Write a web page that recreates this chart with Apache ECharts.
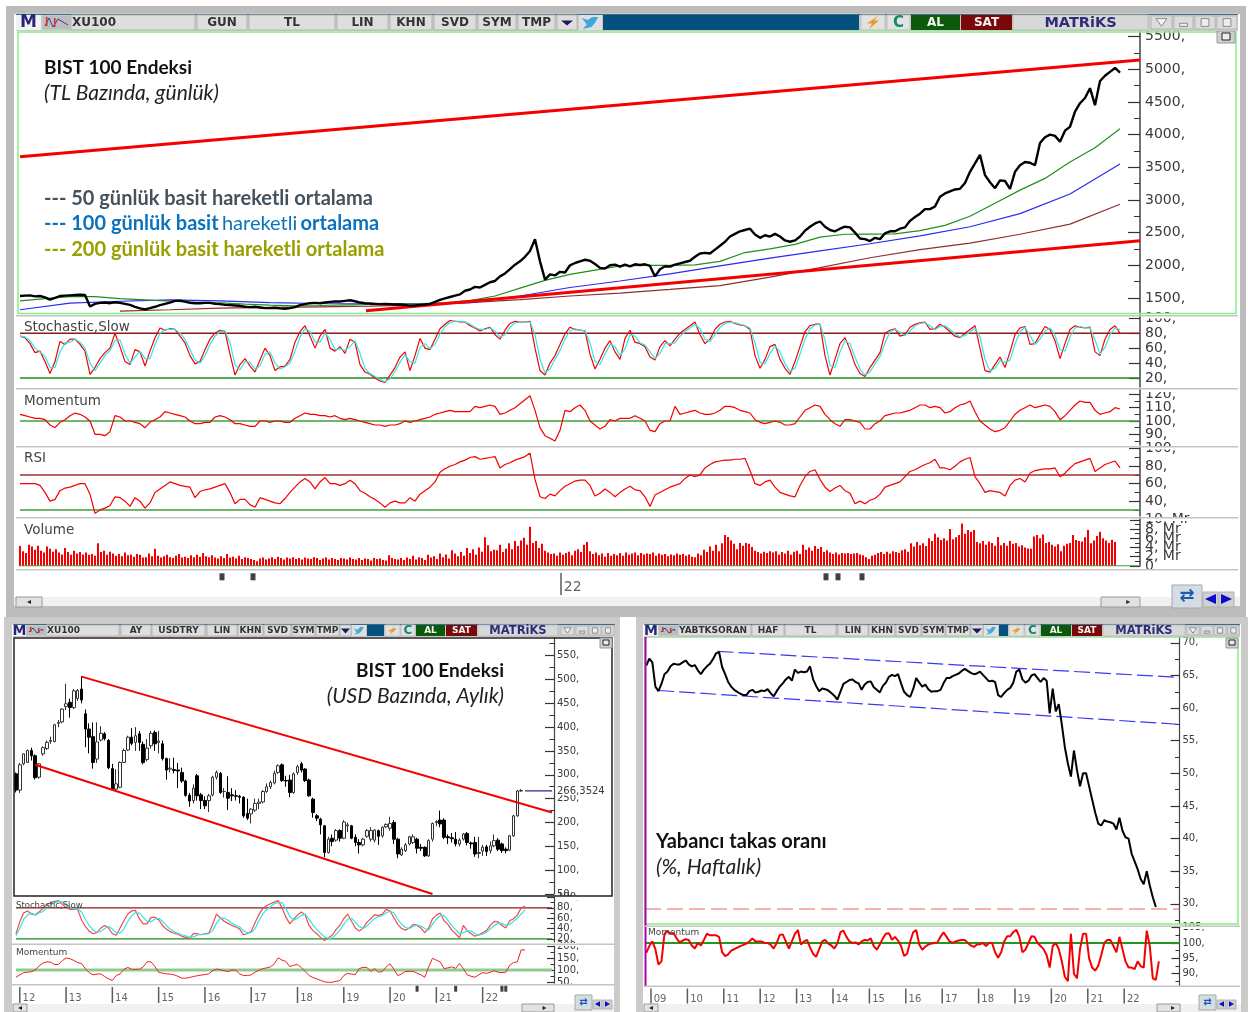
<!DOCTYPE html>
<html>
<head>
<meta charset="utf-8">
<style>html,body{margin:0;padding:0;background:#fff}#main{width:1248px;height:1012px}</style>
<script src="https://cdn.jsdelivr.net/npm/echarts@6/dist/echarts.min.js"></script>
</head>
<body>
<div id="main"></div>
<script>
// ---- gunluk TL grafik (x = islem gunu, 0..560) ----
const priceStep = 2.5
const priceValues = [1530,1535,1540,1525,1530,1510,1475,1500,1530,1535,1540,1545,1550,1545,1370,1410,1425,1430,1420,1435,1425,1410,1395,1365,1340,1325,1345,1365,1390,1410,1430,1455,1460,1445,1425,1420,1420,1425,1425,1410,1405,1395,1390,1385,1380,1365,1360,1365,1355,1345,1345,1350,1340,1335,1345,1360,1390,1405,1420,1425,1420,1430,1440,1445,1445,1455,1465,1450,1430,1420,1415,1410,1405,1410,1405,1400,1400,1395,1380,1385,1395,1400,1410,1440,1470,1495,1515,1535,1555,1610,1630,1670,1660,1700,1740,1760,1830,1875,1940,2010,2060,2130,2220,2400,2060,1780,1860,1845,1900,1890,2000,2035,2060,2085,2070,2020,1960,1950,2000,2010,1980,2010,1985,2015,2005,2015,1990,1830,1940,1985,1980,2010,2030,2050,2070,2130,2180,2190,2180,2240,2300,2360,2440,2480,2520,2540,2560,2470,2420,2460,2440,2480,2440,2380,2360,2380,2440,2530,2590,2640,2670,2590,2540,2520,2560,2590,2580,2500,2410,2400,2370,2420,2400,2490,2520,2520,2560,2580,2680,2740,2790,2860,2860,2900,3050,3100,3130,3160,3170,3260,3430,3560,3690,3380,3270,3180,3300,3290,3170,3430,3530,3580,3570,3530,3870,3960,4000,3980,3890,4060,4120,4350,4480,4560,4710,4450,4820,4900,4960,5020,4950]
const ma50Step = 12.5
const ma50Values = [1455,1490,1520,1520,1490,1470,1450,1435,1425,1405,1390,1380,1385,1395,1400,1408,1415,1425,1460,1530,1650,1770,1860,1925,1990,2000,2000,2005,2060,2195,2250,2320,2430,2475,2478,2480,2530,2610,2750,2950,3150,3330,3580,3800,4090]
const ma100Step = 25
const ma100Values = [1320,1420,1450,1470,1455,1430,1415,1410,1410,1430,1530,1660,1760,1870,1990,2110,2220,2330,2450,2590,2790,3090,3550]
const ma200Step = 25
const ma200Values = [null,null,1300,1320,1345,1355,1365,1375,1395,1430,1475,1530,1575,1630,1690,1820,1965,2115,2240,2340,2475,2630,2935]
const trendUpper = [[0,3660],[560,5142]]
const trendLower = [[173,1303],[560,2375]]

const stochStep = 2.5
const stochK = [76,74,66,54,56,42,26,42,69,65,72,72,65,56,25,34,46,54,60,80,62,42,38,58,55,36,56,74,87,84,86,85,76,67,50,39,42,58,72,80,84,82,52,24,38,46,36,28,44,60,50,30,35,36,45,68,82,90,76,60,76,85,60,56,62,53,72,68,38,28,25,20,16,14,24,34,48,55,30,50,73,60,58,72,86,92,97,96,95,95,90,87,83,86,88,78,72,84,93,96,95,95,96,60,30,24,40,50,65,79,88,85,84,83,52,32,45,60,70,55,45,73,84,68,66,62,48,44,62,70,63,72,80,85,90,95,78,66,72,85,92,95,96,93,91,90,85,50,33,45,62,65,45,33,25,42,62,82,90,92,92,50,24,45,66,74,58,38,26,22,34,44,54,80,84,86,76,78,88,92,94,95,85,86,92,88,82,76,74,80,85,90,60,30,28,38,48,34,55,78,87,89,65,66,78,89,85,70,46,66,85,90,88,87,88,55,50,72,85,90,80]
const stochD = [76,75,70,60,55,49,34,34,55,67,68,72,68,60,40,30,40,50,57,70,71,52,40,48,56,46,46,65,80,85,85,85,80,72,58,44,40,50,65,76,82,83,67,38,31,42,41,32,36,52,55,40,32,35,40,56,75,86,83,68,68,80,72,58,59,57,62,70,53,33,26,22,18,15,19,29,41,51,42,40,61,66,59,65,79,89,94,96,96,95,92,88,85,85,87,83,75,78,88,94,95,95,95,78,45,27,32,45,57,72,83,86,84,83,67,42,38,52,65,62,50,59,78,76,67,64,55,46,53,66,66,67,76,82,87,92,86,72,69,78,88,93,95,94,92,90,87,67,41,39,53,63,55,39,29,33,52,72,86,91,92,71,37,34,55,70,66,48,32,24,28,39,49,67,82,85,81,77,83,90,93,94,90,85,89,90,85,79,75,77,82,87,75,45,29,33,43,41,44,66,82,88,77,65,72,83,87,77,58,56,75,87,89,87,87,71,52,61,78,87,85]
const momStep = 2.5
const momValues = [105,104,103,102,102,101,97,95,99,101,104,106,105,103,100,90,90,89,92,104,103,100,100,99,98,95,99,101,103,107,106,105,104,103,100,98,98,99,99,103,104,103,101,98,98,97,96,96,100,100,99,100,100,99,99,102,104,106,105,105,104,104,103,104,102,101,102,101,100,99,98,97,97,96,97,97,98,100,99,100,101,102,103,105,106,107,108,107,107,107,107,111,110,111,112,111,105,106,108,110,113,116,119,108,95,89,87,85,93,108,107,110,112,108,100,97,94,96,101,100,102,102,102,104,102,100,93,92,98,100,100,111,105,106,107,108,106,105,105,106,108,111,111,110,108,107,106,101,99,98,99,100,99,97,97,98,103,108,110,112,111,105,101,98,96,101,101,100,99,94,94,98,100,104,105,106,106,107,108,110,112,112,110,111,110,106,107,110,112,113,115,107,100,97,94,92,93,95,100,105,108,110,112,110,111,112,111,107,101,104,108,112,115,114,114,108,105,106,107,110,109]
const rsiStep = 2.5
const rsiValues = [60,60,60,60,58,50,40,42,52,55,56,58,60,60,48,26,30,32,35,45,44,40,34,44,40,32,38,50,54,58,62,60,58,57,56,44,51,53,54,56,58,60,50,37,42,42,36,33,44,42,40,38,37,43,50,56,62,66,62,54,62,67,60,60,58,60,64,60,52,49,45,42,38,33,38,40,38,38,44,40,48,52,56,62,73,77,80,82,85,87,90,91,88,89,90,91,78,82,84,87,89,91,95,65,45,43,48,46,52,57,60,63,64,64,58,46,49,54,50,45,50,54,57,53,52,45,34,47,50,53,56,58,60,66,70,68,70,78,82,85,86,87,87,88,88,89,75,60,58,62,64,56,50,48,46,45,58,68,74,76,65,56,51,55,58,52,49,37,40,37,41,43,48,56,58,60,62,68,74,76,79,82,84,88,78,78,76,80,85,88,90,68,60,50,52,51,50,46,58,64,66,62,72,75,76,77,77,78,68,72,78,83,85,87,89,74,78,82,84,86,78]
const volumeStep = 1.5
const volumeValues = [4.3,3.2,2.8,4.6,4.2,3.5,4.4,3.3,2.9,4.2,3.7,3.1,3.6,2.9,2.5,3.9,3.0,2.4,3.3,2.7,3.0,2.5,2.9,2.4,2.6,2.2,4.9,3.0,3.3,2.4,3.1,2.7,2.2,2.6,2.1,2.9,2.3,2.5,2.0,2.6,2.4,1.8,1.9,2.7,2.1,3.7,2.2,1.8,2.1,2.4,1.9,1.7,2.2,2.6,1.8,2.0,1.7,2.3,1.9,2.4,2.0,2.8,2.1,1.9,2.3,1.8,1.6,2.1,1.7,2.6,1.8,2.0,1.6,2.2,1.5,1.9,1.7,1.5,1.3,1.0,1.6,1.8,1.4,1.6,1.9,1.5,2.0,1.7,1.4,1.8,1.6,1.9,1.5,1.7,1.4,1.8,1.6,1.5,1.9,1.7,1.3,1.6,1.8,1.4,1.7,1.5,1.3,1.7,1.6,1.4,1.8,1.5,1.4,1.7,1.3,1.6,1.5,1.2,1.7,1.5,1.6,1.3,1.2,2.3,1.7,1.5,1.4,1.7,1.3,1.8,1.5,2.2,1.4,1.9,1.7,1.3,2.4,1.8,2.1,1.5,2.7,1.9,2.5,1.6,3.4,2.7,2.1,3.0,2.2,3.9,2.8,3.6,2.4,4.0,3.1,6.2,4.5,3.2,3.5,3.4,4.6,3.0,3.7,4.9,3.6,5.4,4.3,5.5,6.1,4.6,8.5,5.0,5.4,3.9,4.8,3.3,2.9,2.6,2.7,2.2,2.9,2.4,2.8,3.1,2.3,3.3,3.6,3.0,4.6,5.2,3.2,2.6,2.9,2.3,2.7,2.0,2.8,2.2,2.6,2.3,2.8,2.2,2.9,2.4,2.7,2.9,2.3,2.8,2.5,2.7,2.6,2.9,2.2,2.7,2.4,2.6,2.1,2.5,2.3,2.7,2.4,2.6,2.2,2.5,2.0,1.9,2.7,2.3,3.5,3.0,4.2,3.3,4.6,3.2,4.9,6.7,6.3,5.5,4.8,3.6,5.0,4.4,5.0,4.8,4.1,3.3,3.0,2.7,3.1,2.8,3.2,2.9,3.2,2.4,3.0,2.7,3.3,2.4,3.1,3.3,2.6,4.6,3.5,4.0,3.3,4.3,3.7,4.1,3.0,3.4,2.9,2.6,2.9,2.5,2.8,2.7,2.8,2.6,2.7,2.8,2.5,2.3,1.9,1.5,2.2,2.4,2.8,3.0,2.6,3.1,2.7,3.2,3.0,2.8,3.4,3.6,3.1,4.9,4.2,5.2,4.5,4.9,4.3,6.0,5.4,7.0,6.2,5.6,6.0,5.5,8.0,5.8,6.2,6.7,9.2,7.0,7.8,7.4,7.8,5.2,4.9,5.4,4.6,5.3,5.0,4.4,6.3,4.5,5.0,4.4,5.4,4.8,5.0,4.2,4.5,4.0,3.8,3.7,6.4,6.7,6.0,6.8,5.0,5.2,4.6,4.2,4.7,3.2,4.4,4.8,5.0,6.7,5.6,5.4,5.3,6.2,7.8,4.9,5.5,6.5,7.4,6.0,5.5,5.0,5.7,5.2]
const dailyYearTicks = [[270.5,'22']]
const dailyMarks = [101,116.5,403,409,421]

// ---- aylik USD grafik: [acilis, kapanis, dusuk, yuksek] ----
const monthCount = 140
const monthlyCandles = [[302,268,263,305],[268,321,262,325],[323,344,320,345],[326,351,325,353],[351,340,330,357],[340,294,290,343],[295,323,292,325],[344,357,340,360],[355,368,352,372],[370,372,365,380],[370,405,368,407],[408,410,400,415],[411,438,408,440],[443,449,436,491],[452,441,420,460],[441,476,438,480],[460,477,455,480],[480,457,450,507],[428,396,358,437],[396,379,345,408],[380,326,313,410],[333,369,325,410],[373,387,370,402],[386,376,372,390],[372,315,312,375],[313,270,268,323],[270,281,266,312],[274,326,272,328],[326,351,325,355],[352,379,350,382],[379,366,362,398],[368,382,350,400],[386,368,350,392],[364,326,322,370],[332,356,328,375],[361,387,355,392],[389,365,350,393],[368,371,345,392],[365,334,330,372],[334,310,290,336],[312,314,305,335],[311,309,303,336],[310,308,272,325],[305,287,283,315],[287,257,254,290],[257,245,233,262],[246,272,240,280],[298,256,246,302],[258,246,228,262],[246,235,228,255],[246,256,222,260],[258,295,255,298],[295,305,290,309],[303,263,260,306],[265,265,252,272],[263,251,226,297],[258,256,245,272],[256,255,246,268],[255,253,240,258],[253,214,210,255],[219,209,205,250],[218,228,198,230],[226,240,222,250],[240,243,228,250],[243,265,240,268],[265,275,262,282],[275,284,270,288],[283,303,280,309],[305,319,302,322],[321,288,285,324],[288,287,275,298],[289,263,253,300],[263,302,260,305],[305,317,300,321],[323,310,305,327],[312,288,285,314],[289,256,254,292],[249,221,210,252],[214,209,203,218],[207,195,175,210],[193,137,127,195],[137,165,135,170],[167,160,150,175],[163,183,160,186],[183,167,160,186],[167,201,165,205],[193,195,180,200],[193,167,165,195],[169,158,150,175],[158,153,135,165],[153,165,150,168],[171,183,168,186],[165,183,160,190],[163,184,158,186],[183,171,153,185],[172,190,168,192],[191,196,188,198],[188,198,183,212],[200,165,155,205],[165,134,125,168],[132,144,130,148],[141,153,138,157],[155,170,152,172],[158,170,155,175],[165,146,135,168],[148,146,140,155],[148,130,128,150],[130,162,128,165],[165,198,160,200],[200,202,192,205],[205,197,190,225],[205,169,165,209],[170,168,155,175],[168,166,158,178],[165,155,150,180],[155,163,150,167],[165,176,162,178],[177,158,152,180],[157,155,145,160],[158,134,128,170],[135,137,125,170],[140,148,130,153],[149,139,130,153],[141,151,135,160],[151,162,148,175],[163,144,140,167],[155,141,136,158],[144,141,135,148],[142,172,140,174],[172,214,170,216],[214,266,212,268],[266,267,265,270]]
const monthlyChannelTop = [[17,506],[139,221]]
const monthlyChannelBottom = [[5,321],[108,50]]
const lastPrice = 266.3524
const monthlyStochK = [30,53,70,74,68,67,72,79,86,90,92,94,87,81,77,77,77,57,44,35,30,32,41,46,41,30,27,41,55,68,74,75,59,49,49,61,62,57,46,39,34,31,29,25,23,21,30,30,28,30,31,48,68,61,54,50,46,43,39,28,30,35,51,67,79,84,88,91,94,80,62,49,58,66,72,66,46,36,30,23,17,22,27,38,46,59,68,54,41,35,41,52,59,67,65,68,77,74,61,48,40,37,41,48,46,41,32,41,59,66,70,55,48,37,30,22,46,36,30,25,28,32,36,46,54,53,46,41,55,59,66,80,83]
const monthlyStochD = [26,40,58,66,70,66,70,73,80,85,90,92,92,88,82,78,78,72,58,46,37,33,34,40,44,39,32,31,40,54,64,71,70,62,54,53,58,60,54,46,39,34,31,28,26,23,24,27,29,29,30,36,50,60,60,56,50,46,43,36,32,32,40,55,68,77,82,88,90,90,78,64,56,60,65,68,58,47,38,31,24,21,22,29,37,48,58,60,52,44,40,45,52,60,63,65,70,74,70,58,48,42,40,44,47,45,40,37,48,58,65,65,56,46,38,30,32,36,35,30,27,29,33,39,46,50,50,46,48,54,60,68,76]
const monthlyMom = [70,80,89,91,93,100,117,129,134,133,123,123,139,150,147,140,131,127,106,89,80,83,84,73,63,57,77,84,103,111,103,103,103,113,134,134,116,91,87,84,83,80,74,66,66,69,73,76,79,81,84,97,104,101,97,94,100,99,84,77,77,80,91,99,106,109,113,127,151,141,136,114,120,123,110,94,77,69,63,57,51,49,49,53,56,77,86,83,81,106,111,111,94,106,91,94,113,126,103,77,84,94,94,94,87,80,70,113,149,141,134,106,109,113,107,127,106,80,74,70,80,89,86,91,97,91,89,91,120,131,134,184,184]
const monthlyYearLabels = ['12','13','14','15','16','17','18','19','20','21','22']
const monthlyYearIndex = [1,13,25,37,49,61,73,85,97,109,121]
const monthlyMarks = [104,114,126,127]

// ---- haftalik yabanci takas (x = yil) ----
const foreignStart = 2008.87
const foreignStep = 1 / 12
const foreignValues = [66.5,67.6,67.0,63.3,62.6,63.7,65.2,65.6,66.4,66.8,66.7,66.7,67.0,67.3,66.7,66.4,66.6,65.8,65.2,65.9,66.4,66.8,67.5,68.4,68.6,66.3,65.2,64.0,63.3,62.8,62.5,62.2,62.0,62.0,62.6,62.8,62.4,62.5,62.7,62.6,62.9,62.3,61.8,62.6,63.3,63.8,64.4,64.8,64.2,65.9,65.4,65.6,65.5,65.6,66.4,64.4,63.4,62.6,63.0,62.9,62.7,62.3,61.9,61.3,62.5,63.7,64.0,64.3,64.4,64.0,63.8,62.8,63.6,64.0,64.1,63.2,62.8,62.4,63.4,63.9,64.8,65.1,64.9,65.2,63.8,62.5,62.0,61.7,62.9,64.6,63.9,63.3,63.6,62.9,62.5,62.6,62.6,62.8,63.8,64.6,64.6,64.9,65.1,65.3,65.7,66.0,65.7,65.4,65.2,65.3,65.6,65.1,64.6,64.1,64.2,64.0,62.0,61.7,62.3,62.8,63.1,63.9,65.6,65.9,64.4,63.9,64.2,65.0,65.2,64.6,64.0,64.6,64.2,59.2,63.0,59.5,60.6,57.5,54.0,51.5,49.5,53.5,50.5,48.0,50.0,50.0,48.0,46.0,44.0,42.3,42.0,42.8,42.6,42.5,42.3,41.4,43.2,41.2,40.2,40.0,37.7,36.5,35.3,33.8,33.0,35.0,32.8,31.0,29.5]
const foreignMom = [96.8,99,100.5,98,93,94,103,103.8,103,103.2,101.5,100.2,100.8,101.2,101,99.2,98.2,100,99.2,101,103,102.5,102.5,102.5,102,97,95.7,96.3,97.5,98,98.5,99,99.4,99.8,100.5,101.5,100.5,100.5,100.5,100,100,99.4,98.2,100,102.6,102.8,100.5,98.2,100.5,103,104.2,99.5,100.5,101,98.5,96.5,95.5,98,100.5,101,99.8,99.2,98.2,99.8,103.5,104,102,100.5,100,100.2,99.5,100.5,101,100.8,101.5,99,97.8,99.5,101.5,103,103.2,101,102,100.8,99,95.8,96.5,100.5,103.5,104.2,99.5,97.8,98.8,99.5,99.8,100,100.2,102,103.5,102,100.5,100,100.5,100.8,101,101,100,99.2,98.7,99.5,99.6,100,99,100,100,97,95.2,97,100.5,102.2,102.2,103.5,104.3,102,97,97.8,100,102.2,102,100,99,98,96,92,99,100,98,94,89,87.6,103,90,88.5,98,103,103,95,92,91,92.5,96,100,101,101,99,97,102,98,94,92,92,91.5,94,92.5,92,104,99,88.5,88,94]
const foreignChannelTop = [[2010.83,68.7],[2023.52,64.7]]
const foreignChannelBottom = [[2009.2,62.7],[2023.52,57.5]]
const foreignFloor = 29.2
const foreignYears = ['09','10','11','12','13','14','15','16','17','18','19','20','21','22']
const foreignYearValues = [2009,2010,2011,2012,2013,2014,2015,2016,2017,2018,2019,2020,2021,2022]

const INK = '#3a3a3a'
const axisFont = '"DejaVu Sans",sans-serif'
const titleFont = 'Lato,"Open Sans",sans-serif'

const grids = [], xAxes = [], yAxes = [], series = []

// her panel: grid + gizli x ekseni + sagda ana tik ekseni, ara tikler icin ikinci eksen
function panel(box, xCfg, y) {
    const g = grids.length
    grids.push(Object.assign({ containLabel: false, show: false }, box))
    xAxes.push(Object.assign({ gridIndex: g, show: false }, xCfg))
    const yi = yAxes.length
    const fmt = y.fmt || (v => v + ',')
    // uclara bos etiket: min/max etiketi komsusunu gizlemesin, ustuste binen yazilar kalsin
    const labelValues = [y.min].concat(y.major.filter(v => v !== y.min && v !== y.max), [y.max])
    yAxes.push({
        gridIndex: g, type: 'value', position: 'right', min: y.min, max: y.max, scale: true,
        axisLine: { show: true, onZero: false, lineStyle: { color: '#444', width: y.lineW || 1.5 } },
        axisTick: { show: true, inside: true, length: y.tick || 11, customValues: y.major, lineStyle: { color: '#333', width: 1.2 } },
        axisLabel: {
            show: true, customValues: labelValues, margin: y.margin || 5, color: INK, fontFamily: axisFont,
            fontSize: y.font || 14, formatter: v => y.major.indexOf(v) >= 0 ? fmt(v) : '',
            hideOverlap: false, padding: [y.pad === undefined ? 3 : y.pad, 0, 0, 0],
        },
        splitLine: { show: false },
    })
    if (y.minor) {
        // ayni tarafta iki eksen olmuyor, sol eksen negatif offset ile saga alindi
        yAxes.push({
            gridIndex: g, type: 'value', position: 'left', offset: -box.width, min: y.min, max: y.max, scale: true,
            axisLine: { show: false },
            axisTick: { show: true, inside: false, length: (y.tick || 11) / 2, customValues: y.minor, lineStyle: { color: '#333', width: 1 } },
            axisLabel: { show: false },
            splitLine: { show: false },
        })
    }
    return { x: g, y: yi }
}

function stepped(values, step, start) {
    return values.map((v, i) => [(start || 0) + i * step, v])
}

function line(ax, data, color, width, extra) {
    series.push(Object.assign({
        type: 'line', xAxisIndex: ax.x, yAxisIndex: ax.y, data,
        symbol: 'none', silent: true, connectNulls: false,
        lineStyle: { color, width }, z: 3,
    }, extra || {}))
}

function volumeBars(ax, data) {
    series.push({
        type: 'bar', xAxisIndex: ax.x, yAxisIndex: ax.y, data, barWidth: 2,
        itemStyle: { color: '#f40000' }, silent: true, z: 2,
    })
}

function stripTicks(ax, data, labels, h, font) {
    series.push({
        type: 'scatter', xAxisIndex: ax.x, yAxisIndex: ax.y, data,
        symbol: 'rect', symbolSize: [1.5, h], silent: true,
        itemStyle: { color: '#333' },
        label: {
            show: true, position: 'right', distance: 2, offset: [0, 3], color: INK,
            fontFamily: axisFont, fontSize: font, formatter: p => labels[p.dataIndex],
        },
    })
}

function stripMarks(ax, data, size, y) {
    series.push({
        type: 'scatter', xAxisIndex: ax.x, yAxisIndex: ax.y, data: data.map(d => [d, y]),
        symbol: 'rect', symbolSize: size, silent: true, itemStyle: { color: '#111' },
    })
}

const RED = '#f40000', CYAN = '#2fe6e6', GREEN = '#1c8c1c', BROWN = '#8c1a1a'

// ---- ust pencere ----
const dayX = { type: 'value', min: 0, max: 560 }
const aMain = panel({ left: 20, top: 32, width: 1120, height: 282.3 }, dayX,
    { min: 1250, max: 5570, major: [1500,2000,2500,3000,3500,4000,4500,5000,5500], minor: [1750,2250,2750,3250,3750,4250,4750,5250], tick: 12 })
line(aMain, stepped(ma200Values, ma200Step), '#8e2f2f', 1.2)
line(aMain, stepped(ma100Values, ma100Step), '#2a2af0', 1.2)
line(aMain, stepped(ma50Values, ma50Step), '#1f8f1f', 1.2)
line(aMain, trendUpper, '#f50000', 3, { z: 4 })
line(aMain, trendLower, '#f50000', 3, { z: 4 })
line(aMain, stepped(priceValues, priceStep), '#000', 2.4, { z: 5 })

const aStoch = panel({ left: 20, top: 316, width: 1120, height: 71 }, dayX,
    { min: 8, max: 103, major: [20,40,60,80,100] })
line(aStoch, [[0,80],[560,80]], BROWN, 1.5)
line(aStoch, [[0,20],[560,20]], GREEN, 1.5)
line(aStoch, stepped(stochK, stochStep), RED, 1.2)
line(aStoch, stepped(stochD, stochStep), CYAN, 1.2)

const aMom = panel({ left: 20, top: 389, width: 1120, height: 56 }, dayX,
    { min: 82, max: 124, major: [90,100,110,120], minor: [85,95,105,115] })
line(aMom, [[0,100],[560,100]], '#3f9f3f', 1.5)
line(aMom, stepped(momValues, momStep), RED, 1.2)

const aRsi = panel({ left: 20, top: 447, width: 1120, height: 69 }, dayX,
    { min: 23, max: 102, major: [40,60,80,100], minor: [30,50,70,90] })
line(aRsi, [[0,70],[560,70]], '#a03030', 1.5)
line(aRsi, [[0,30],[560,30]], '#3f9f3f', 1.5)
line(aRsi, stepped(rsiValues, rsiStep), RED, 1.2)

const aVol = panel({ left: 20, top: 518, width: 1120, height: 48 }, dayX,
    { min: -0.02, max: 10.4, major: [0,2,4,6,8,10], minor: [1,3,5,7,9], tick: 10, fmt: v => v === 0 ? '0' : v + ', Mr', margin: 5 })
volumeBars(aVol, stepped(volumeValues, volumeStep))
line(aVol, [[0,0],[560,0]], '#3f9f3f', 1.2)

const aStrip = panel({ left: 20, top: 572, width: 1120, height: 24 }, dayX, { min: 0, max: 1, major: [], lineW: 0.01 })
yAxes[aStrip.y].axisLine.show = false
stripTicks(aStrip, dailyYearTicks.map(d => [d[0], 0.5]), dailyYearTicks.map(d => d[1]), 22, 14)
stripMarks(aStrip, dailyMarks, [5, 7], 0.8)

// ---- sol alt pencere ----
const months = Array.from({ length: monthCount }, (_, i) => String(i))
const monthX = { type: 'category', data: months, boundaryGap: true }
const bMain = panel({ left: 14, top: 638, width: 540, height: 256 }, monthX,
    { min: 50, max: 587, major: [50,100,150,200,250,300,350,400,450,500,550], minor: [75,125,175,225,275,325,375,425,475,525,575], tick: 9, font: 10, margin: 3, lineW: 1.2, pad: 2 })
series.push({
    type: 'candlestick', xAxisIndex: bMain.x, yAxisIndex: bMain.y, data: monthlyCandles,
    barWidth: 3, silent: true, z: 3,
    itemStyle: { color: '#fff', color0: '#000', borderColor: '#333', borderColor0: '#000', borderWidth: 1 },
})
line(bMain, monthlyChannelTop, '#f50000', 2, { z: 4 })
line(bMain, monthlyChannelBottom, '#f50000', 2, { z: 4 })
line(bMain, [[132,lastPrice],[139,lastPrice]], '#27278f', 1.2, { z: 4 })

const bStoch = panel({ left: 14, top: 897, width: 540, height: 45 }, monthX,
    { min: 14, max: 101, major: [20,40,60,80,100], minor: [30,50,70,90], tick: 7, font: 10, margin: 3, lineW: 1.2, pad: 2 })
line(bStoch, [[0,80],[139,80]], BROWN, 1.3)
line(bStoch, [[0,20],[139,20]], GREEN, 1.3)
line(bStoch, monthlyStochK, '#f24a4a', 1.2)
line(bStoch, monthlyStochD, CYAN, 1.2)

const bMom = panel({ left: 14, top: 946, width: 540, height: 37 }, monthX,
    { min: 46, max: 200, major: [50,100,150,200], minor: [75,125,175], tick: 7, font: 10, margin: 3, lineW: 1.2, pad: 2 })
line(bMom, [[0,100],[139,100]], '#8fcb8f', 3)
line(bMom, monthlyMom, '#f02020', 1)

const bStrip = panel({ left: 14, top: 986, width: 540, height: 18 }, monthX, { min: 0, max: 1, major: [], lineW: 0.01 })
yAxes[bStrip.y].axisLine.show = false
stripTicks(bStrip, monthlyYearIndex.map(i => [i, 0.5]), monthlyYearLabels, 16, 10)
stripMarks(bStrip, monthlyMarks, [3, 6], 0.85)

// ---- sag alt pencere ----
const yearX = { type: 'value', min: 2008.835, max: 2023.52 }
const cMain = panel({ left: 645, top: 637, width: 534.5, height: 287 }, yearX,
    { min: 26.9, max: 70.9, major: [30,35,40,45,50,55,60,65,70], minor: [27.5,32.5,37.5,42.5,47.5,52.5,57.5,62.5,67.5], tick: 9, font: 10, margin: 3, lineW: 1.2, pad: 2 })
line(cMain, foreignChannelTop, '#3a3af5', 1.2, { lineStyle: { color: '#3a3af5', width: 1.2, type: [16, 5] } })
line(cMain, foreignChannelBottom, '#3a3af5', 1.2, { lineStyle: { color: '#3a3af5', width: 1.2, type: [16, 5] } })
line(cMain, [[2008.835,foreignFloor],[2023.52,foreignFloor]], '#f06060', 1.2, { lineStyle: { color: '#f06060', width: 1.2, type: [16, 6] } })
line(cMain, stepped(foreignValues, foreignStep, foreignStart), '#000', 2, { z: 5 })

const cMom = panel({ left: 645, top: 927, width: 534.5, height: 59 }, yearX,
    { min: 86, max: 105.2, major: [90,95,100,105], minor: [87.5,92.5,97.5,102.5], tick: 8, font: 10, margin: 3, lineW: 1.2, pad: 2 })
line(cMom, [[2008.835,100],[2023.52,100]], '#1f9a1f', 2.2)
line(cMom, stepped(foreignMom, foreignStep, foreignStart), RED, 2, { z: 5 })

const cStrip = panel({ left: 645, top: 988, width: 534.5, height: 16 }, yearX, { min: 0, max: 1, major: [], lineW: 0.01 })
yAxes[cStrip.y].axisLine.show = false
stripTicks(cStrip, foreignYearValues.map(v => [v, 0.5]), foreignYears, 15, 10)

// ---- pencere cerceveleri / toolbar ----
const under = [], over = []
function rect(list, x, y, w, h, fill, stroke, lw) {
    list.push({ type: 'rect', shape: { x, y, width: w, height: h }, silent: true,
        style: { fill: fill || 'transparent', stroke: stroke || null, lineWidth: lw || 1 } })
}
function text(list, x, y, str, font, color, align) {
    list.push({ type: 'text', x, y, silent: true,
        style: { text: str, font, fill: color, align: align || 'left', verticalAlign: 'middle' } })
}
const BTN = '#dedede'
function button(x0, x1, y, h, label, size) {
    rect(over, x0, y, x1 - x0, h, BTN, '#b5b5b5', 1)
    if (label) text(over, (x0 + x1) / 2, y + h / 2 + 0.5, label, 'bold ' + size + 'px ' + axisFont, '#333', 'center')
}
function toolbar(cfg) {
    const y = cfg.y, h = cfg.h, fs = cfg.fs
    rect(over, cfg.m[0], y - 2, cfg.end - cfg.m[0], h + 3, '#c9c9c9')
    rect(over, cfg.m[0], y - 1, cfg.end - cfg.m[0], 1, '#3d6c86')
    rect(over, cfg.m[0], y, cfg.m[1] - cfg.m[0], h, '#f2f2f2')
    text(over, (cfg.m[0] + cfg.m[1]) / 2, y + h / 2 + 0.5, 'M', 'bold ' + (fs + 5) + 'px ' + axisFont, '#27277a', 'center')
    // kucuk grafik ikonu
    const ic = cfg.icon
    rect(over, ic, y + 1, cfg.sym - ic - 1, h - 2, '#bdbdbd')
    over.push({ type: 'polyline', silent: true, shape: { points: [[ic + 2, y + h - 4], [ic + 6, y + 3], [ic + 10, y + h - 3], [ic + 15, y + 4], [cfg.sym - 3, y + h - 5]] },
        style: { stroke: '#3a3aa0', fill: null, lineWidth: 1 } })
    rect(over, ic + 3, y + 2, 1.5, h - 6, '#d43030')
    rect(over, ic + 11, y + 3, 1.5, h - 6, '#d43030')
    rect(over, cfg.sym, y, cfg.symEnd - cfg.sym, h, BTN, '#b5b5b5')
    text(over, cfg.sym + 1, y + h / 2 + 0.5, cfg.name, 'bold ' + fs + 'px ' + axisFont, '#333')
    cfg.buttons.forEach(b => button(b[0], b[1], y, h, b[2], fs))
    // acilir ok
    button(cfg.arrow[0], cfg.arrow[1], y, h)
    const am = (cfg.arrow[0] + cfg.arrow[1]) / 2
    const as = Math.min(6, (cfg.arrow[1] - cfg.arrow[0]) / 2 - 1)
    over.push({ type: 'polygon', silent: true, shape: { points: [[am - as, y + h / 2 - 2], [am + as, y + h / 2 - 2], [am, y + h / 2 + 3]] }, style: { fill: '#1a1a60' } })
    // twitter
    rect(over, cfg.tw[0], y, cfg.tw[1] - cfg.tw[0], h, '#e0e0e0')
    const tm = (cfg.tw[0] + cfg.tw[1]) / 2, ts = (cfg.tw[1] - cfg.tw[0]) / 24
    over.push({ type: 'polygon', silent: true, shape: { points: [[tm - 9 * ts, y + 3], [tm - 3 * ts, y + 5], [tm + 2 * ts, y + 2], [tm + 8 * ts, y + 2], [tm + 5 * ts, y + h / 2], [tm + ts, y + h - 3], [tm - 8 * ts, y + h - 1], [tm - 4 * ts, y + h / 2 + 2]] }, style: { fill: '#3fa9dd' } })
    rect(over, cfg.band[0], y, cfg.band[1] - cfg.band[0], h, '#04507e')
    // simsek + yenile
    rect(over, cfg.bolt[0], y, cfg.bolt[1] - cfg.bolt[0], h, '#e2e2e2', '#c0c0c0')
    const bm = (cfg.bolt[0] + cfg.bolt[1]) / 2, bs = h / 15
    over.push({ type: 'polygon', silent: true, shape: { points: [[bm + 5 * bs, y + 1], [bm - 6 * bs, y + h / 2 + 1], [bm - 1 * bs, y + h / 2 + 1], [bm - 4 * bs, y + h - 1], [bm + 6 * bs, y + h / 2 - 2], [bm + 1 * bs, y + h / 2 - 2]] }, style: { fill: '#e89a20' } })
    rect(over, cfg.c[0], y, cfg.c[1] - cfg.c[0], h, '#e2e2e2', '#c0c0c0')
    text(over, (cfg.c[0] + cfg.c[1]) / 2, y + h / 2 + 0.5, 'C', 'bold ' + (fs + 3) + 'px ' + axisFont, '#118a6a', 'center')
    rect(over, cfg.al[0], y, cfg.al[1] - cfg.al[0], h, '#0b5a0b')
    text(over, (cfg.al[0] + cfg.al[1]) / 2, y + h / 2 + 0.5, 'AL', 'bold ' + fs + 'px ' + axisFont, '#f2f2f2', 'center')
    rect(over, cfg.sat[0], y, cfg.sat[1] - cfg.sat[0], h, '#7a0808')
    text(over, (cfg.sat[0] + cfg.sat[1]) / 2, y + h / 2 + 0.5, 'SAT', 'bold ' + fs + 'px ' + axisFont, '#f2f2f2', 'center')
    rect(over, cfg.mat[0], y, cfg.mat[1] - cfg.mat[0], h, '#d8d8d8', '#bdbdbd')
    text(over, (cfg.mat[0] + cfg.mat[1]) / 2, y + h / 2 + 0.5, 'MATRiKS', 'bold ' + (fs + 2.5) + 'px ' + axisFont, '#2d2d78', 'center')
    cfg.win.forEach(w => rect(over, w[0], y + 1, w[1] - w[0], h - 2, '#dcdcdc', '#b8b8b8'))
    const s = (h - 2) * 0.3
    cfg.win.forEach((w, i) => {
        const mx = (w[0] + w[1]) / 2, my = y + h / 2
        if (i === 0) over.push({ type: 'polygon', silent: true, shape: { points: [[mx - s * 1.4, my - s], [mx + s * 1.4, my - s], [mx, my + s]] }, style: { fill: '#f4f4f4', stroke: '#8a8a8a' } })
        else if (i === 1) rect(over, mx - s, my + s * 0.2, 2 * s, s * 0.8, '#eee', '#8a8a8a')
        else rect(over, mx - s, my - s, 2 * s, 2 * s, '#eee', '#8a8a8a')
    })
}
function scrollRow(x0, x1, y, h, leftW, rightX) {
    rect(over, x0, y, leftW, h, '#e2e2e2', '#999')
    text(over, x0 + leftW / 2, y + h / 2, '◂', '8px ' + axisFont, '#222', 'center')
    rect(over, rightX, y, x1 - rightX, h, '#e2e2e2', '#999')
    text(over, rightX + (x1 - rightX) * 0.7, y + h / 2, '▸', '8px ' + axisFont, '#222', 'center')
}
function navButtons(x, y, w, h, tri) {
    rect(over, x, y, w, h, '#d4dce4', '#a8a8a8', 1)
    text(over, x + w / 2, y + h / 2, '⇄', 'bold ' + (h - 5) + 'px ' + axisFont, '#1a5aa8', 'center')
    const bw = 2 * tri + 1, ty = y + h - tri - 2, tx = x + w + 1
    rect(over, tx, ty - tri, bw, 2 * tri + 1, '#d0d0d0', '#b0b0b0')
    rect(over, tx + bw + 1, ty - tri, bw, 2 * tri + 1, '#d0d0d0', '#b0b0b0')
    over.push({ type: 'polygon', silent: true, shape: { points: [[tx + bw - 2, ty - tri / 1.4], [tx + bw - 2, ty + tri / 1.4], [tx + 2, ty]] }, style: { fill: '#0a0ad0' } })
    over.push({ type: 'polygon', silent: true, shape: { points: [[tx + bw + 3, ty - tri / 1.4], [tx + bw + 3, ty + tri / 1.4], [tx + 2 * bw - 1, ty]] }, style: { fill: '#0a0ad0' } })
}

// pencere zeminleri
rect(under, 6, 6, 1240, 611, '#bcbcbc')
rect(under, 14, 14, 1226, 592, '#fff')
rect(under, 14, 597, 1226, 9, '#f1f1f1')
rect(under, 4, 617, 616, 395, '#cbcbcb')
rect(under, 12, 624, 602, 388, '#fff')
rect(under, 12, 1004, 602, 8, '#f1f1f1')
rect(under, 636, 617, 612, 395, '#cbcbcb')
rect(under, 643, 624, 598, 388, '#fff')
rect(under, 643, 1004, 598, 8, '#f1f1f1')

// usten kesilen eksen yazilari icin ortuler
rect(over, 1141, 313, 76, 5.5, '#fff')
rect(over, 1141, 389, 76, 3, '#fff')
rect(over, 1141, 447, 76, 2.5, '#fff')
rect(over, 1141, 518, 76, 3, '#fff')
rect(over, 556, 896, 56, 4.5, '#fff')
rect(over, 556, 943, 56, 3, '#fff')
rect(over, 556, 985, 56, 2, '#fff')
rect(over, 1181, 926, 56, 3, '#fff')

// ust pencere kenarliklari
rect(over, 18, 32, 1218, 281.5, null, '#86ee86', 1.5)
;[315, 388, 446, 517, 569].forEach(y => rect(over, 16, y, 1222, 1.5, '#c4c4c4'))
rect(over, 1217, 31, 18, 12, '#cfcfcf', '#9a9a9a')
rect(over, 1222, 33, 8, 7, '#eee', '#222')
// sol alt
rect(over, 14, 638, 598, 258, null, '#222', 1.5)
;[943.5, 984].forEach(y => rect(over, 12, y, 602, 1.5, '#c4c4c4'))
rect(over, 600, 638, 12, 10, '#cfcfcf', '#9a9a9a')
rect(over, 603, 640, 6, 5, '#eee', '#222')
// sag alt
rect(over, 645, 637, 593, 287, null, '#86ee86', 1.5)
rect(over, 644.5, 637, 2, 350, '#b000b0')
;[925.5, 985.5].forEach(y => rect(over, 645, y, 595, 1.5, '#c4c4c4'))
rect(over, 1226, 638, 12, 10, '#cfcfcf', '#9a9a9a')
rect(over, 1229, 640, 6, 5, '#eee', '#222')

toolbar({ y: 15, h: 15, fs: 12, end: 1238, m: [16, 41], icon: 43, sym: 71, symEnd: 195, name: 'XU100',
    buttons: [[197,247,'GUN'],[249,335,'TL'],[337,388,'LIN'],[390,432,'KHN'],[434,476,'SVD'],[478,516,'SYM'],[518,555,'TMP']],
    arrow: [557,577], tw: [579,602], band: [603,859], bolt: [861,885], c: [887,910], al: [911,960], sat: [961,1012], mat: [1013,1148],
    win: [[1151,1172],[1174,1193],[1195,1215],[1217,1237]] })
toolbar({ y: 625, h: 11, fs: 9, end: 615, m: [13, 26], icon: 27, sym: 46, symEnd: 119, name: 'XU100',
    buttons: [[121,151,'AY'],[152,205,'USDTRY'],[207,237,'LIN'],[238,263,'KHN'],[264,291,'SVD'],[292,315,'SYM'],[316,339,'TMP']],
    arrow: [340,351], tw: [352,366], band: [367,384], bolt: [385,400], c: [401,415], al: [416,445], sat: [446,477], mat: [478,558],
    win: [[561,574],[576,588],[589,601],[602,614]] })
toolbar({ y: 625, h: 11, fs: 9, end: 1240, m: [644, 658], icon: 659, sym: 678, symEnd: 751, name: 'YABTKSORAN',
    buttons: [[752,784,'HAF'],[785,836,'TL'],[838,868,'LIN'],[869,895,'KHN'],[896,921,'SVD'],[922,945,'SYM'],[946,970,'TMP']],
    arrow: [971,983], tw: [984,998], band: [999,1008], bolt: [1009,1024], c: [1025,1040], al: [1041,1071], sat: [1072,1102], mat: [1103,1185],
    win: [[1187,1199],[1201,1213],[1214,1226],[1228,1239]] })

scrollRow(16, 1140, 597, 10, 26, 1101)
navButtons(1172, 585, 30, 23, 7)
scrollRow(13, 554, 1004, 8, 14, 522)
navButtons(575, 995, 17, 15, 4)
scrollRow(644, 1180, 1004, 8, 14, 1157)
navButtons(1199, 995, 17, 15, 4)

// panel yazilari
text(over, 24, 327, 'Stochastic,Slow', '13.5px ' + axisFont, '#444')
text(over, 24, 401, 'Momentum', '13.5px ' + axisFont, '#444')
text(over, 24, 458, 'RSI', '13.5px ' + axisFont, '#444')
text(over, 24, 530, 'Volume', '13.5px ' + axisFont, '#444')
text(over, 16, 906, 'Stochastic,Slow', '8.5px ' + axisFont, '#444')
text(over, 16, 953, 'Momentum', '9px ' + axisFont, '#444')
text(over, 648, 933, 'Momentum', '9px ' + axisFont, '#444')

// son fiyat etiketi
rect(over, 556, 785, 50, 10, '#fff')
text(over, 557, 791, '266,3524', '10px ' + axisFont, INK)

// baslik ve aciklamalar
text(over, 44, 68, 'BIST 100 Endeksi', 'bold 19px ' + titleFont, '#111')
text(over, 44, 93, '(TL Bazında, günlük)', 'italic 21px ' + titleFont, '#222')
text(over, 44, 199, '--- 50 günlük basit hareketli ortalama', 'bold 20px ' + titleFont, '#44525e')
over.push({ type: 'text', x: 44, y: 224, silent: true, style: {
    text: '{b|--- 100 günlük basit} {r|hareketli} {b|ortalama}', verticalAlign: 'middle',
    rich: { b: { font: 'bold 20px ' + titleFont, fill: '#0b72bd', color: '#0b72bd' }, r: { font: '20px ' + titleFont, fill: '#0b72bd', color: '#0b72bd' } },
} })
text(over, 44, 250, '--- 200 günlük basit hareketli ortalama', 'bold 20px ' + titleFont, '#98a000')
text(over, 504, 671, 'BIST 100 Endeksi', 'bold 19px ' + titleFont, '#111', 'right')
text(over, 504, 696, '(USD Bazında, Aylık)', 'italic 21px ' + titleFont, '#222', 'right')
text(over, 656, 842, 'Yabancı takas oranı', 'bold 20px ' + titleFont, '#111')
text(over, 656, 867, '(%, Haftalık)', 'italic 21px ' + titleFont, '#222')

// graphic ogeleri serilerin ve eksen yazilarinin ustunde kalsin
over.forEach(o => { o.z = 50 })
under.forEach(o => { o.z = -1 })

const chart = echarts.init(document.getElementById('main'), null, { renderer: 'canvas', width: 1248, height: 1012 })
chart.setOption({
    animation: false,
    backgroundColor: '#ffffff',
    grid: grids,
    xAxis: xAxes,
    yAxis: yAxes,
    series,
    graphic: [
        { type: 'group', silent: true, children: under },
        { type: 'group', silent: true, children: over },
    ],
})
</script>
</body>
</html>
